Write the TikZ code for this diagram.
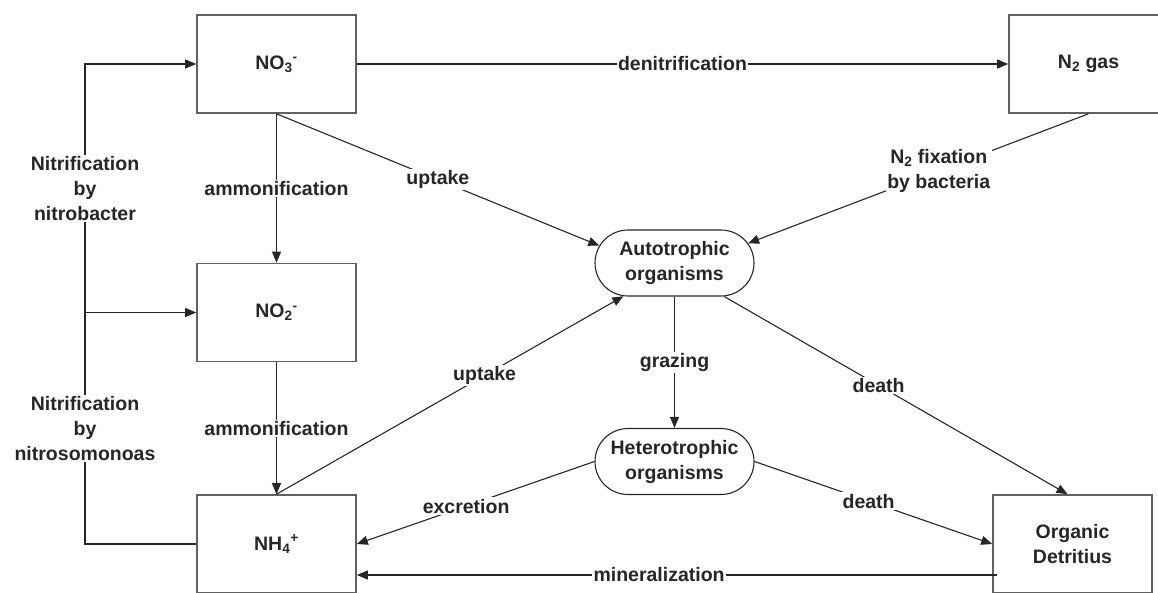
\documentclass[tikz,border=0pt]{standalone}
\usepackage{fontspec}
\setmainfont{Liberation Sans}
\usetikzlibrary{arrows.meta,shapes.misc}
\begin{document}
\begin{tikzpicture}[x=1pt,y=-1pt,
  every node/.style={font=\fontsize{19.5}{25}\selectfont\bfseries, text=black!85},
  stock/.style={draw=black!62, line width=1.6pt, minimum width=159pt, minimum height=98pt, inner sep=0pt, align=center},
  pill/.style={rounded rectangle, draw=black!85, line width=1.1pt, minimum width=159pt, minimum height=66pt, inner sep=0pt, align=center},
  conn/.style={draw=black!85, line width=1.1pt},
  arr/.style={conn, -{Triangle[length=11pt,width=9pt]}},
  lab/.style={fill=white, inner sep=1.5pt, align=center}]
\path[use as bounding box, clip] (0,0) rectangle (1158,592);

% stocks
\node[stock] (no3) at (276.5,64) {NO\textsubscript{3}\textsuperscript{-}};
\node[stock] (no2) at (276.5,312.5) {NO\textsubscript{2}\textsuperscript{-}};
\node[stock] (nh4) at (276.5,544) {NH\textsubscript{4}\textsuperscript{+}};
\node[stock] (n2) at (1088.5,64) {N\textsubscript{2} gas};
\node[stock] (od) at (1072.5,544) {Organic\\Detritius};

% organisms
\node[pill] (auto) at (674.5,263) {Autotrophic\\organisms};
\node[pill] (het) at (674.5,461.5) {Heterotrophic\\organisms};

% left nitrification loop
\coordinate (lj) at (85,312.5);
\draw[conn] (nh4.west) -| node[lab,pos=0.75] {Nitrification\\by\\nitrosomonoas} (lj);
\draw[arr] (lj) -- (no2.west);
\draw[arr] (lj) |- node[lab,pos=0.25] {Nitrification\\by\\nitrobacter} (no3.west);

% flows
\draw[arr] (no3.east) -- node[lab,pos=0.5] {denitrification} (n2.west);
\draw[arr] (no3.south) -- node[lab] {ammonification} (no2.north);
\draw[arr] (no2.south) -- node[lab] {ammonification} (nh4.north);
\draw[arr] (no3.south) -- node[lab] {uptake} (auto.167);
\draw[arr] (n2.south) -- node[lab,pos=0.44] {N\textsubscript{2} fixation\\by bacteria} (auto.15);
\draw[arr] (nh4.north) -- node[lab,pos=0.6] {uptake} (auto.213);
\draw[arr] (auto.south) -- node[lab] {grazing} (het.north);
\draw[arr] (auto.326) -- node[lab,pos=0.45] {death} ([xshift=-5pt]od.north);
\draw[arr] (het.west) -- node[lab,pos=0.54] {excretion} (nh4.east);
\draw[arr] (het.east) -- node[lab,pos=0.48] {death} (od.west);
\draw[arr] ([shift={(5pt,-31pt)}]od.west) -- node[lab,pos=0.528] {mineralization} ([yshift=-31pt]nh4.east);
\end{tikzpicture}
\end{document}
